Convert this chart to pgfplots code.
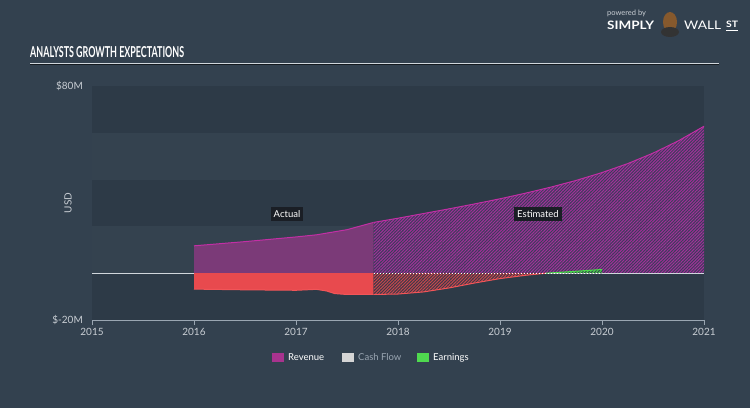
\documentclass[border=0pt]{standalone}
\usepackage{pgfplots}
\pgfplotsset{compat=1.18}
\usepackage{fontspec}
\setmainfont{Lato}
\usetikzlibrary{patterns,patterns.meta}
\definecolor{bg}{HTML}{33414F}
\definecolor{banddark}{HTML}{2D3A47}
\definecolor{bandlight}{HTML}{34424F}
\definecolor{revfill}{HTML}{7B3A78}
\definecolor{revline}{HTML}{C22FA5}
\definecolor{revhatchbase}{HTML}{3B3C5A}
\definecolor{revhatch}{HTML}{A3309A}
\definecolor{redfill}{HTML}{E84A4E}
\definecolor{redline}{HTML}{F25558}
\definecolor{redhatchbase}{HTML}{3A3848}
\definecolor{redhatch}{HTML}{C8474D}
\definecolor{greenline}{HTML}{4CD94C}
\definecolor{ticktext}{HTML}{C9CED4}
\definecolor{axisgray}{HTML}{9AA6B2}
\definecolor{zeroline}{HTML}{D0D6DC}
\definecolor{tagbg}{HTML}{1A1E25}
\definecolor{legrev}{HTML}{A8338E}
\definecolor{legcash}{HTML}{D5D5D5}
\definecolor{legearn}{HTML}{4FD94F}
\begin{document}
\begin{tikzpicture}[x=1pt,y=1pt]
\fill[bg] (0,0) rectangle (750,408);
\useasboundingbox (0,0) rectangle (750,408);
% title
\node[anchor=south west, inner sep=0, text=white] at (30,350) {\resizebox{154pt}{11pt}{\bfseries ANALYSTS GROWTH EXPECTATIONS}};
\draw[black!60!bg, line width=1pt] (30,343.2) -- (719,343.2);
\draw[zeroline, line width=1.2pt] (30,344.4) -- (719,344.4);
% logo
\node[anchor=south west, inner sep=0, text=ticktext] at (607,391) {\fontsize{7.5}{8}\selectfont powered by};
\node[anchor=south west, inner sep=0, text=white] at (607,378) {\resizebox{47pt}{8.5pt}{\bfseries SIMPLY}};
\fill[brown!70!black] (670,386) ellipse (7pt and 10pt);
\fill[gray!40!black] (670,376) ellipse (9pt and 5pt);
\node[anchor=south west, inner sep=0, text=white] at (684,378) {\resizebox{37pt}{8.5pt}{WALL}};
\node[anchor=south west, inner sep=0, text=white] at (726,380) {\resizebox{12pt}{6.5pt}{\bfseries ST}};
\draw[white, line width=0.8pt] (726,377.5) -- (738,377.5);
% USD label
\node[rotate=90, text=ticktext, inner sep=0] at (68,205) {\fontsize{10}{12}\selectfont USD};
\begin{axis}[
  at={(92pt,88pt)}, anchor=south west, scale only axis,
  width=612pt, height=234pt,
  xmin=2015, xmax=2021, ymin=-20, ymax=80,
  axis x line*=bottom, axis y line*=left,
  y axis line style={draw=none},
  x axis line style={draw=axisgray, line width=0.8pt},
  xtick={2015,2016,2017,2018,2019,2020,2021},
  xticklabels={2015,2016,2017,2018,2019,2020,2021},
  ytick={-20,80}, yticklabels={\$-20M,\$80M},
  ytick style={draw=none},
  xtick style={draw=axisgray, line width=0.8pt},
  tick align=outside, major tick length=5pt,
  xticklabel style={text=ticktext, font=\fontsize{10}{12}\selectfont, inner sep=0pt, anchor=north, yshift=-3pt},
  yticklabel style={text=ticktext, font=\fontsize{10}{12}\selectfont, inner sep=0pt, anchor=east, xshift=-4pt},
  /pgf/number format/assume math mode=true,
  clip=false,
]
% bands
\fill[banddark] (axis cs:2015,60) rectangle (axis cs:2021,80);
\fill[bandlight] (axis cs:2015,40) rectangle (axis cs:2021,60);
\fill[banddark] (axis cs:2015,20) rectangle (axis cs:2021,40);
\fill[bandlight] (axis cs:2015,0) rectangle (axis cs:2021,20);
\fill[banddark] (axis cs:2015,-20) rectangle (axis cs:2021,0);
\draw[zeroline, line width=1pt] (axis cs:2015,0) -- (axis cs:2021,0);
% revenue actual
\addplot[draw=none, fill=revfill] coordinates {(2016,0) (2016,11.7) (2016.5,13.5) (2017,15.5) (2017.2,16.4) (2017.5,18.6) (2017.76,21.7) (2017.76,0)} -- cycle;
\addplot[revline, line width=1pt] coordinates {(2016,11.7) (2016.5,13.5) (2017,15.5) (2017.2,16.4) (2017.5,18.6) (2017.76,21.7)};
% revenue estimated
\addplot[draw=none, fill=revhatchbase, postaction={pattern={Lines[angle=45,distance=2.2pt,line width=1pt]}, pattern color=revhatch}] coordinates {(2017.76,0) (2017.76,21.7) (2018,23.5) (2018.25,25.5) (2018.5,27.5) (2018.75,29.6) (2019,31.8) (2019.25,34.2) (2019.5,36.8) (2019.75,39.7) (2020,43) (2020.25,46.8) (2020.5,51.3) (2020.75,56.6) (2021,62.8) (2021,0)} -- cycle;
\addplot[revline, line width=1pt] coordinates {(2017.76,21.7) (2018,23.5) (2018.25,25.5) (2018.5,27.5) (2018.75,29.6) (2019,31.8) (2019.25,34.2) (2019.5,36.8) (2019.75,39.7) (2020,43) (2020.25,46.8) (2020.5,51.3) (2020.75,56.6) (2021,62.8)};
% earnings actual (negative)
\addplot[draw=none, fill=redfill] coordinates {(2016,0) (2016,-6.8) (2016.5,-7.1) (2017,-7.3) (2017.1,-7.1) (2017.2,-6.9) (2017.3,-7.6) (2017.38,-8.7) (2017.5,-9.1) (2017.76,-9.1) (2017.76,0)} -- cycle;
\addplot[redline, line width=1pt] coordinates {(2016,-6.8) (2016.5,-7.1) (2017,-7.3) (2017.1,-7.1) (2017.2,-6.9) (2017.3,-7.6) (2017.38,-8.7) (2017.5,-9.1) (2017.76,-9.1)};
% earnings estimated
\addplot[draw=none, fill=redhatchbase, postaction={pattern={Lines[angle=45,distance=2.2pt,line width=1pt]}, pattern color=redhatch}] coordinates {(2017.76,0) (2017.76,-9.1) (2018,-8.9) (2018.25,-8) (2018.5,-6.3) (2018.75,-4.2) (2019,-2.3) (2019.25,-0.9) (2019.45,0)} -- cycle;
\addplot[redline, line width=1pt] coordinates {(2017.76,-9.1) (2018,-8.9) (2018.25,-8) (2018.5,-6.3) (2018.75,-4.2) (2019,-2.3) (2019.25,-0.9) (2019.45,0)};
\addplot[draw=none, fill=bg, postaction={pattern={Lines[angle=45,distance=2.2pt,line width=1pt]}, pattern color=greenline}] coordinates {(2019.45,0) (2019.7,0.7) (2020,1.6) (2020,0)} -- cycle;
\addplot[greenline, line width=1pt] coordinates {(2019.45,0) (2019.7,0.7) (2020,1.6)};
% zero line overlays
\draw[white, line width=0.7pt, dash pattern=on 1.5pt off 1.5pt] (axis cs:2017.76,0) -- (axis cs:2020,0);
\draw[zeroline, line width=1pt] (axis cs:2020,0) -- (axis cs:2021,0);
\end{axis}
% tags
\node[fill=tagbg, text=white, inner xsep=3pt, inner ysep=3pt, font=\fontsize{9.5}{11}\selectfont] at (287,194) {Actual};
\node[fill=tagbg, text=white, inner xsep=3pt, inner ysep=3pt, font=\fontsize{9.5}{11}\selectfont] at (538,194) {Estimated};
% legend
\fill[legrev] (272,46) rectangle (284,55);
\node[anchor=west, inner sep=0, text=white, font=\fontsize{9.5}{11}\selectfont] at (288,50.5) {Revenue};
\fill[legcash] (342,46) rectangle (354,55);
\node[anchor=west, inner sep=0, text=axisgray, font=\fontsize{9.5}{11}\selectfont] at (358,50.5) {Cash Flow};
\fill[legearn] (417,46) rectangle (429,55);
\node[anchor=west, inner sep=0, text=white, font=\fontsize{9.5}{11}\selectfont] at (433,50.5) {Earnings};
\end{tikzpicture}
\end{document}
